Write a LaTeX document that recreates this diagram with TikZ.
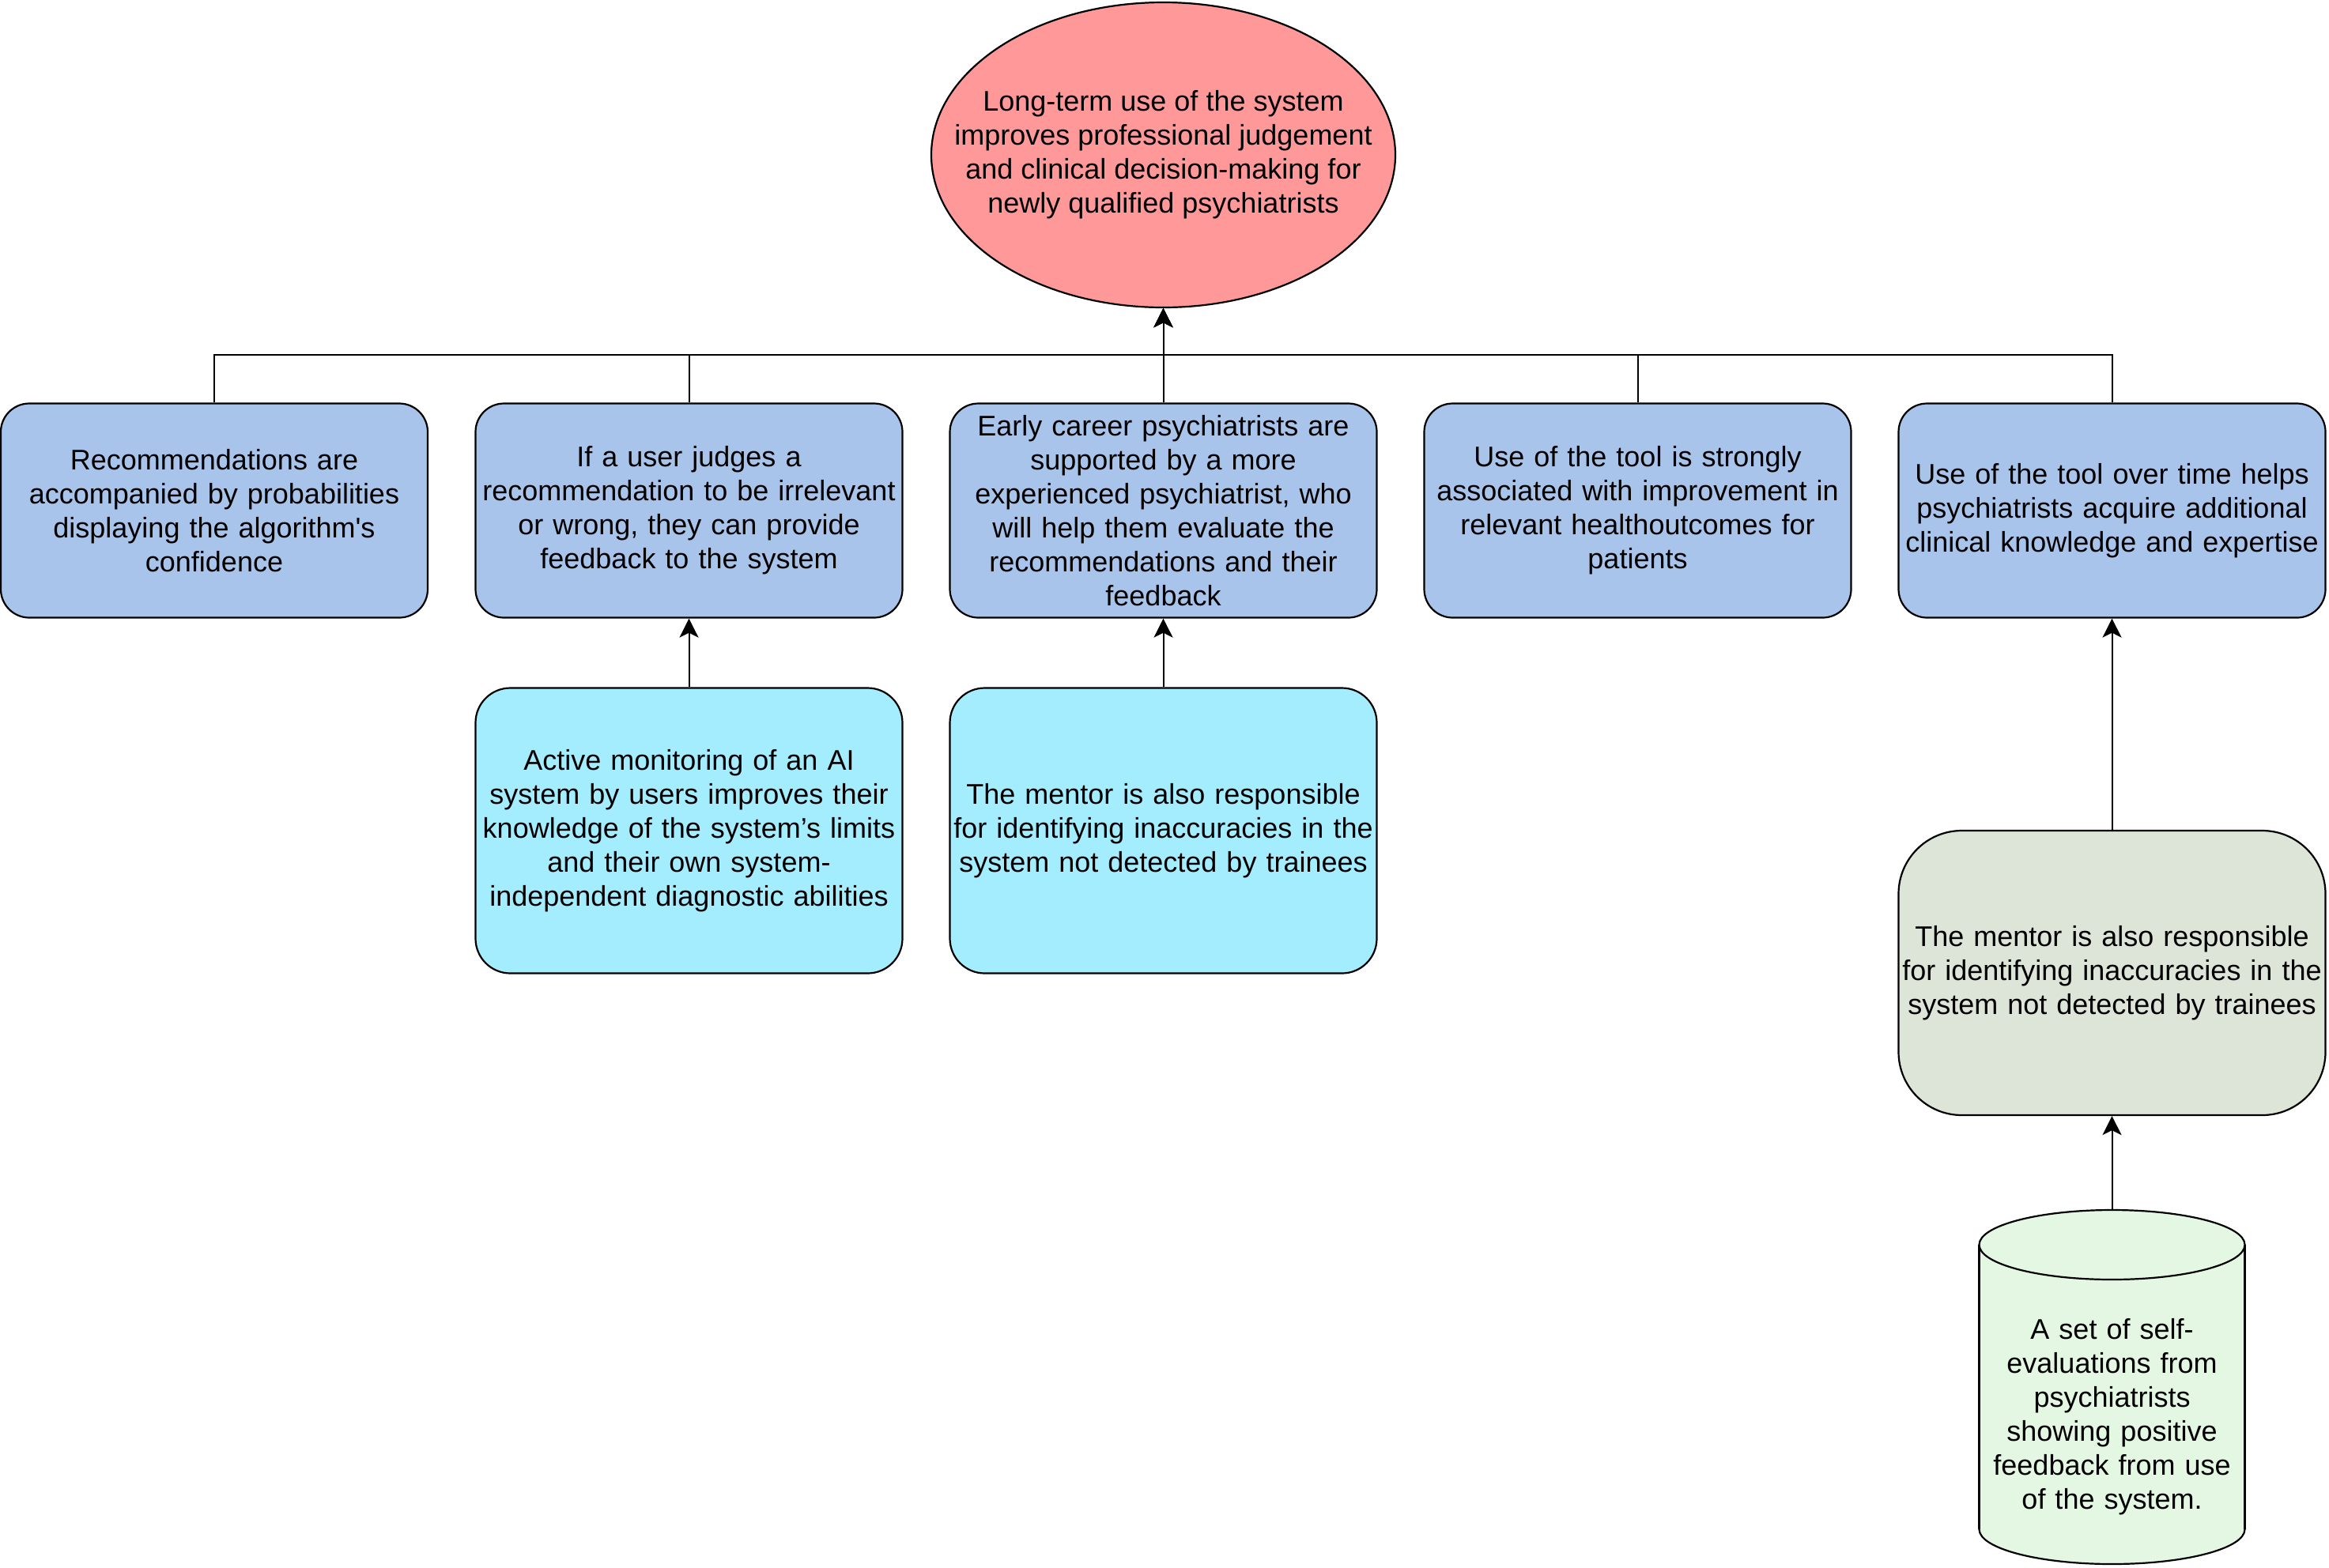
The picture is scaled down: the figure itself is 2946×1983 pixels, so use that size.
\documentclass[tikz,border=0pt]{standalone}
\usepackage{fontspec}
\setmainfont{Liberation Sans}
\usetikzlibrary{shapes.geometric, arrows.meta}
\definecolor{ellred}{HTML}{FF9999}
\definecolor{boxblue}{HTML}{A9C4EB}
\definecolor{boxcyan}{HTML}{A3EDFF}
\definecolor{boxgrey}{HTML}{DDE5D8}
\definecolor{cylgreen}{HTML}{E3F7E3}
\begin{document}
\begin{tikzpicture}[x=0.5pt, y=-0.5pt,
  every node/.style={font=\fontsize{18pt}{21.5pt}\selectfont, align=center},
  base/.style={draw=black, line width=1.1pt, rectangle, text width=274pt, inner xsep=-2pt, inner ysep=2pt, minimum width=270pt},
  bluebox/.style={base, rounded corners=18pt, fill=boxblue, minimum height=135.5pt},
  cyanbox/.style={base, rounded corners=22pt, fill=boxcyan, minimum height=180.5pt},
  greybox/.style={base, rounded corners=40pt, fill=boxgrey, minimum height=180pt},
  goal/.style={draw=black, line width=1.1pt, ellipse, fill=ellred, inner xsep=-30pt, inner ysep=0pt, minimum width=293.5pt, minimum height=193pt},
  conn/.style={line width=1pt, -{Stealth[length=12pt,width=12pt,inset=3pt]}},
  outl/.style={line width=1.1pt}
]
\fill[white] (0,0) rectangle (2946,1983);
\useasboundingbox (0,0) rectangle (2946,1983);

\node[goal] (top) at (1471.5,196) {Long-term use of the system\\improves professional judgement\\and clinical decision-making for\\newly qualified psychiatrists};

\node[bluebox] (b1) at (271,646) {Recommendations are\\accompanied by probabilities\\displaying the algorithm\textquotesingle s\\confidence};
\node[bluebox] (b2) at (871.5,646) {If a user judges a\\recommendation to be irrelevant\\or wrong, they can provide\\feedback to the system};
\node[bluebox] (b3) at (1471.5,646) {Early career psychiatrists are\\supported by a more\\experienced psychiatrist, who\\will help them evaluate the\\recommendations and their\\feedback};
\node[bluebox] (b4) at (2071.5,646) {Use of the tool is strongly\\associated with improvement in\\relevant healthoutcomes for\\patients};
\node[bluebox] (b5) at (2671.5,646) {Use of the tool over time helps\\psychiatrists acquire additional\\clinical knowledge and expertise};

\node[cyanbox] (c2) at (871.5,1051) {Active monitoring of an AI\\system by users improves their\\knowledge of the system’s limits\\and their own system-\\independent diagnostic abilities};
\node[cyanbox] (c3) at (1471.5,1051) {The mentor is also responsible\\for identifying inaccuracies in the\\system not detected by trainees};

\node[greybox] (g5) at (2671.5,1231) {The mentor is also responsible\\for identifying inaccuracies in the\\system not detected by trainees};

% cylinder
\node[rectangle, minimum width=168pt, minimum height=224pt, inner sep=0pt] (cyl) at (2671.5,1755) {};
\draw[outl, fill=cylgreen] (2671.5,1935) ellipse [x radius=84pt, y radius=22pt];
\fill[cylgreen] (2503.5,1575) rectangle (2839.5,1935);
\draw[outl] (2503.5,1575) -- (2503.5,1935) (2839.5,1575) -- (2839.5,1935);
\draw[outl, fill=cylgreen] (2671.5,1575) ellipse [x radius=84pt, y radius=22pt];
\node[text width=160pt, inner sep=0pt] (cylt) at (2671.5,1793) {A set of self-\\evaluations from\\psychiatrists\\showing positive\\feedback from use\\of the system.};

% connectors
\foreach \b in {b1,b2,b3,b4,b5}{
  \draw[conn] (\b.north) -- ++(0,-60) -| (top.south);
}
\draw[conn] (c2.north) -- (b2.south);
\draw[conn] (c3.north) -- (b3.south);
\draw[conn] (g5.north) -- (b5.south);
\draw[conn] (cyl.north) -- (g5.south);
\end{tikzpicture}
\end{document}
